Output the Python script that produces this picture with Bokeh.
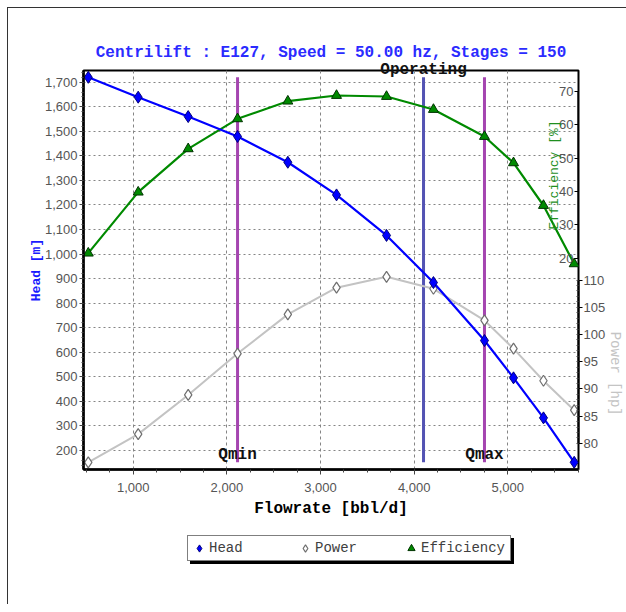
from bokeh.plotting import figure
from bokeh.layouts import column
from bokeh.models import (Range1d, LinearAxis, SingleIntervalTicker, NumeralTickFormatter,
                          Legend, LegendItem, Title)
from bokeh.core.properties import value
from bokeh.embed import file_html
from bokeh.resources import INLINE

# ---------------- data ----------------
flow = [520, 1053, 1587, 2114, 2651, 3171, 3705, 4206, 4751, 5061, 5381, 5709]
head = [1720, 1639, 1560, 1479, 1374, 1241, 1076, 884, 648, 496, 333, 152]
power = [76.5, 81.7, 88.9, 96.5, 103.7, 108.6, 110.6, 108.4, 102.6, 97.4, 91.5, 86.1]
efficiency = [21.5, 39.8, 52.8, 61.8, 67.1, 68.8, 68.5, 64.6, 56.5, 48.6, 35.8, 18.3]

marker_names = ["Qmin", "Operating", "Qmax"]
marker_flows = [2114, 4100, 4751]

series_names = ["Head", "Power", "Efficiency"]
title_text = "Centrilift : E127, Speed = 50.00 hz, Stages = 150"
x_label = "Flowrate [bbl/d]"
head_label = "Head [m]"
eff_label = "Efficiency [%]"
power_label = "Power [hp]"

# axis ranges
x_start, x_end = 469, 5755
head_start, head_end = 122.7, 1747.7
eff_start, eff_end = -43.4, 76.3
power_start, power_end = 75.2, 148.5
eff_bounds = (20, 70)
power_bounds = (80, 110)

MONO = "Liberation Mono"
TICKF = "Liberation Sans"
TICK_COLOR = "#555555"
FRAME_W, FRAME_H = 495, 399
BL, BR, BT, BB = 75, 48, 62, 60
FIG_W = BL + FRAME_W + BR

HEAD_STYLE = dict(marker="diamond", fill_color="#0000ff", line_color="#00007a", line_width=1)
POWER_STYLE = dict(marker="diamond", fill_color="white", line_color="#6f6f6f", line_width=1.2)
EFF_STYLE = dict(marker="triangle", fill_color="#008a00", line_color="#003300", line_width=1)

p = figure(frame_width=FRAME_W, frame_height=FRAME_H,
           min_border_left=BL, min_border_right=BR, min_border_top=BT, min_border_bottom=BB,
           x_range=Range1d(x_start, x_end), y_range=Range1d(head_start, head_end),
           output_backend="svg", toolbar_location=None, title=title_text)
p.background_fill_color = "white"
p.border_fill_color = "white"
p.outline_line_color = "black"
p.outline_line_width = 2

p.title.text_font = MONO
p.title.text_font_style = "bold"
p.title.text_font_size = "16px"
p.title.text_color = "#2b2bff"
p.title.align = "center"
p.title.standoff = 15

p.extra_y_ranges = {"eff": Range1d(eff_start, eff_end), "power": Range1d(power_start, power_end)}

# ---- bottom axis ----
xt = SingleIntervalTicker(interval=1000, num_minor_ticks=4)
xa = p.xaxis[0]
xa.ticker = xt
xa.formatter = NumeralTickFormatter(format="0,0")
xa.axis_label = x_label
xa.axis_label_text_font = MONO
xa.axis_label_text_font_style = "bold"
xa.axis_label_text_font_size = "16px"
xa.axis_label_text_color = "black"
xa.axis_label_standoff = 5
xa.major_label_text_font = TICKF
xa.major_label_text_font_size = "13px"
xa.major_label_text_color = TICK_COLOR
xa.major_label_standoff = 8
xa.axis_line_width = 2.5
xa.axis_line_color = "black"
xa.major_tick_out = 5
xa.major_tick_in = 0
xa.minor_tick_out = 3
xa.minor_tick_in = 0
xa.major_tick_line_color = "#444444"
xa.minor_tick_line_color = "#444444"

# ---- left (head) axis ----
yt = SingleIntervalTicker(interval=100, num_minor_ticks=5)
ya = p.yaxis[0]
ya.ticker = yt
ya.formatter = NumeralTickFormatter(format="0,0")
ya.axis_label = head_label
ya.axis_label_text_font = MONO
ya.axis_label_text_font_style = "bold"
ya.axis_label_text_font_size = "13px"
ya.axis_label_text_color = "#1a1aff"
ya.axis_label_standoff = -2
ya.major_label_text_font = TICKF
ya.major_label_text_font_size = "13px"
ya.major_label_text_color = TICK_COLOR
ya.major_label_standoff = 2
ya.axis_line_width = 2.5
ya.axis_line_color = "black"
ya.major_tick_out = 4
ya.major_tick_in = 0
ya.minor_tick_out = 2
ya.minor_tick_in = 0
ya.major_tick_line_color = "#444444"
ya.minor_tick_line_color = "#444444"

# ---- grids ----
p.xgrid[0].ticker = xt
p.ygrid[0].ticker = yt
p.xgrid.grid_line_color = "#858585"
p.xgrid.grid_line_dash = "3 3"
p.ygrid.grid_line_color = "#858585"
p.ygrid.grid_line_dash = "2 3"

# ---- efficiency axis (inside, at right edge) ----
ea = LinearAxis(y_range_name="eff", fixed_location=x_end, bounds=eff_bounds,
                ticker=SingleIntervalTicker(interval=10),
                axis_label=eff_label)
ea.axis_label_text_font = MONO
ea.axis_label_text_font_style = "normal"
ea.axis_label_text_font_size = "13px"
ea.axis_label_text_color = "#1f8f1f"
ea.axis_label_standoff = -6
ea.major_label_text_font = TICKF
ea.major_label_text_font_size = "13px"
ea.major_label_text_color = TICK_COLOR
ea.major_label_standoff = 1
ea.axis_line_color = "black"
ea.axis_line_width = 2
ea.major_tick_out = 4
ea.major_tick_in = 0
ea.minor_tick_line_color = None
p.add_layout(ea, "left")

# ---- power axis (outside right, lower half) ----
pa = LinearAxis(y_range_name="power", bounds=power_bounds,
                ticker=SingleIntervalTicker(interval=5, num_minor_ticks=5))
pa.major_label_text_font = TICKF
pa.major_label_text_font_size = "13px"
pa.major_label_text_color = TICK_COLOR
pa.major_label_standoff = 1
pa.axis_line_color = "black"
pa.axis_line_width = 2
pa.major_tick_out = 4
pa.major_tick_in = 0
pa.minor_tick_out = 0
pa.minor_tick_in = 2
pa.minor_tick_line_color = "#444444"
p.add_layout(pa, "right")

# power axis title, placed along the power scale
pw_font = 14
pw_len = len(power_label) * 0.6 * pw_font
pw_mid = (sum(power_bounds) / 2 - power_start) / (power_end - power_start) * FRAME_H
pw_title = Title(text=power_label, align="right", offset=pw_mid - pw_len / 2 - 12,
                 vertical_align="bottom", standoff=-4, text_font=MONO,
                 text_font_style="normal", text_font_size=f"{pw_font}px",
                 text_color="#c4c4c4")
p.add_layout(pw_title, "right")

# ---- vertical marker lines ----
y_lo = [min(head)] * len(marker_flows)
y_hi = [max(head)] * len(marker_flows)
p.segment(x0=marker_flows, y0=y_lo, x1=marker_flows, y1=y_hi,
          line_color=["#a545b0", "#5353b3", "#a545b0"], line_width=3)

# ---- series ----
p.line(flow, power, y_range_name="power", line_color="#c3c3c3", line_width=2)
p.scatter(flow, power, y_range_name="power", size=11, **POWER_STYLE)
p.line(flow, efficiency, y_range_name="eff", line_color="#008a00", line_width=2.2)
p.scatter(flow, efficiency, y_range_name="eff", size=10, **EFF_STYLE)
p.line(flow, head, line_color="#0000ff", line_width=2.2)
p.scatter(flow, head, size=12, **HEAD_STYLE)

# ---- Qmin / Qmax labels ----
p.text(x=[marker_flows[0], marker_flows[2]], y=[min(head), min(head)],
       text=[marker_names[0], marker_names[2]],
       text_font=value(MONO), text_font_style="bold", text_font_size="16px",
       text_color="#111111", text_align="center", text_baseline="middle", y_offset=-7)

# ---- "Operating" label straddling the top of the frame ----
op_text = marker_names[1]
op_width = len(op_text) * 0.6 * 16
op_offset = (marker_flows[1] - x_start) / (x_end - x_start) * FRAME_W - op_width / 2
op_title = Title(text=op_text, align="left", offset=op_offset, vertical_align="middle",
                 standoff=-19, text_font=MONO, text_font_style="bold",
                 text_font_size="16px", text_color="#111111")
p.add_layout(op_title, "above")

# ---- legend strip (separate small canvas below the chart) ----
LEG_H = 75
q = figure(width=FIG_W, height=LEG_H, min_border=0, x_range=Range1d(0, 1), y_range=Range1d(0, 1),
           x_axis_type=None, y_axis_type=None, output_backend="svg", toolbar_location=None)
q.outline_line_color = None
q.grid.visible = False
q.background_fill_color = "white"
q.border_fill_color = "white"
# legend swatches: the same series, but they fall outside this strip's (0..1) view
lh = q.scatter(flow, head, **HEAD_STYLE)
lp = q.scatter(flow, power, **POWER_STYLE)
le = q.scatter(flow, efficiency, **EFF_STYLE)
renders = [lh, lp, le]

leg_kw = dict(orientation="horizontal", padding=2, spacing=0, glyph_width=18, glyph_height=20,
              label_standoff=1, label_width=87, label_height=20, margin=0,
              border_line_color="black", border_line_width=1.2,
              label_text_font=MONO, label_text_font_size="14px", label_text_color="#404040")
leg_x, leg_y = 104, 43
shadow = Legend(items=[LegendItem(label="", renderers=[r]) for r in renders],
                location=(leg_x + 3, leg_y - 3), background_fill_color="black",
                background_fill_alpha=1, **leg_kw)
q.add_layout(shadow)
legend = Legend(items=[LegendItem(label=n, renderers=[r]) for n, r in zip(series_names, renders)],
                location=(leg_x, leg_y), background_fill_color="white",
                background_fill_alpha=1, **leg_kw)
q.add_layout(legend)

page = column(p, q, spacing=0)
page.styles = {"margin-left": "7px", "margin-top": "7px",
               "border-left": "1px solid #333333", "border-top": "1px solid #333333"}

open("out.html", "w").write(file_html(page, INLINE))
